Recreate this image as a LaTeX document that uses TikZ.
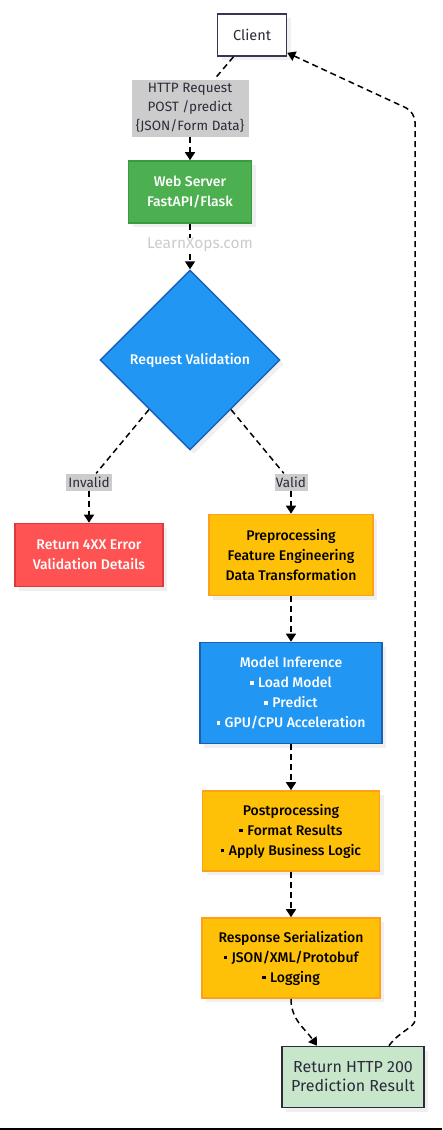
\documentclass[tikz,border=0pt]{standalone}
\usepackage{fontspec}
\setmainfont{Fira Sans}
\newfontfamily\medfont{Fira Sans Medium}
\usetikzlibrary{arrows.meta,positioning,shapes.geometric,shadows}

\definecolor{inkdark}{HTML}{2B2B3C}
\definecolor{clientline}{HTML}{3A3452}
\definecolor{webgreen}{HTML}{4CAF50}
\definecolor{webgreenline}{HTML}{3B9A40}
\definecolor{valblue}{HTML}{2196F3}
\definecolor{valblueline}{HTML}{1A5FB4}
\definecolor{errred}{HTML}{FF5252}
\definecolor{errredline}{HTML}{D93A3A}
\definecolor{stepamber}{HTML}{FFC107}
\definecolor{stepamberline}{HTML}{FF9F1A}
\definecolor{okgreen}{HTML}{C8E6C9}
\definecolor{taggray}{HTML}{CCCCCC}

\newcommand\sqb{\raisebox{2.6pt}{\rule{3.5pt}{3.5pt}}\hspace{4.5pt}}

\tikzset{
  box/.style={rectangle,draw,line width=1.6pt,inner sep=0pt,align=center,
    font=\fontsize{13.5}{19.5}\selectfont,
    drop shadow={opacity=0.12,shadow xshift=4pt,shadow yshift=-4pt}},
  strong/.style={font=\fontsize{14}{20}\selectfont\medfont},
  tag/.style={fill=taggray,inner sep=0pt,align=center,text=inkdark,
    font=\fontsize{13.5}{19}\selectfont},
  flow/.style={draw=black,line width=1.5pt,dash pattern=on 6pt off 4pt,
    -{Triangle[length=8pt,width=10pt]}},
  link/.style={draw=black,line width=1.5pt,dash pattern=on 6pt off 4pt}
}

\begin{document}
\begin{tikzpicture}[x=1pt,y=-1pt]
  \useasboundingbox (0,0) rectangle (442,1130);

  % ===== Nodes =====
  \node[box,draw=clientline,fill=white,text=inkdark,font=\fontsize{14.5}{19}\selectfont,
    minimum width=69pt,minimum height=42pt] (client) at (252,35) {Client};
  \node[tag,minimum width=117pt,minimum height=57pt] (http) at (190,108)
    {HTTP Request\\POST /predict\\\{JSON/Form Data\}};
  \node[box,strong,draw=webgreenline,fill=webgreen,text=white,
    minimum width=123pt,minimum height=62pt] (web) at (190,192) {Web Server\\FastAPI/Flask};
  \node[diamond,strong,draw=valblueline,fill=valblue,line width=1.4pt,inner sep=0pt,aspect=1,
    minimum size=180pt,text=white,
    drop shadow={opacity=0.12,shadow xshift=4pt,shadow yshift=-4pt}]
    (check) at (190,360) {Request Validation};

  \node[tag,minimum width=46pt,minimum height=17pt] (invalid) at (89,482) {Invalid};
  \node[tag,minimum width=33pt,minimum height=17pt] (valid) at (291,482) {Valid};

  \node[box,strong,draw=errredline,fill=errred,text=white,
    minimum width=148pt,minimum height=63pt] (err) at (89,555) {Return 4XX Error\\Validation Details};
  \node[box,strong,draw=stepamberline,fill=stepamber,text=black,
    minimum width=164pt,minimum height=81pt] (pre) at (291,555)
    {Preprocessing\\Feature Engineering\\Data Transformation};
  \node[box,strong,draw=valblueline,fill=valblue,text=white,
    minimum width=182pt,minimum height=101pt] (infer) at (291,693)
    {Model Inference\\\sqb Load Model\\\sqb Predict\\\sqb GPU/CPU Acceleration};
  \node[box,strong,draw=stepamberline,fill=stepamber,text=black,
    minimum width=177pt,minimum height=80pt] (post) at (291,831)
    {Postprocessing\\\sqb Format Results\\\sqb Apply Business Logic};
  \node[box,strong,draw=stepamberline,fill=stepamber,text=black,
    minimum width=178pt,minimum height=80pt] (ser) at (291,958)
    {Response Serialization\\\sqb JSON/XML/Protobuf\\\sqb Logging};
  \node[box,draw=inkdark,fill=okgreen,text=inkdark,font=\fontsize{16}{19}\selectfont,
    minimum width=142pt,minimum height=61pt] (done) at (353,1077) {Return HTTP 200\\Prediction Result};

  % --- Connectors ---
  \draw[link] (client) -- (http);
  \draw[flow] (http) -- (web);
  \draw[flow] (web) -- (check);
  \node[text=taggray,font=\fontsize{15.5}{17}\selectfont,fill=white,inner sep=0.5pt] (mark) at (200,245) {LearnXops.com};
  \draw[link] (check) -- (invalid);
  \draw[flow] (invalid) -- (err);
  \draw[link] (check) -- (valid);
  \draw[flow] (valid) -- (pre);
  \foreach \a/\b in {pre/infer,infer/post,post/ser} {
    \draw[flow] (\a) -- (\b);
  }
  \draw[flow] (ser.south) to[out=-90,in=125] ([xshift=-36pt]done.north);

  % --- Response back to client ---
  \coordinate (risebot) at (415,1010);
  \coordinate (risetop) at (415,112);
  \draw[flow,rounded corners=10pt] ([xshift=36pt]done.north) to[out=55,in=-90] (risebot)
    -- (risetop) -- ([yshift=4pt]client.south east);

  % bottom rule
  \draw[line width=1.2pt] (0,1129) -- (442,1129);
\end{tikzpicture}
\end{document}
